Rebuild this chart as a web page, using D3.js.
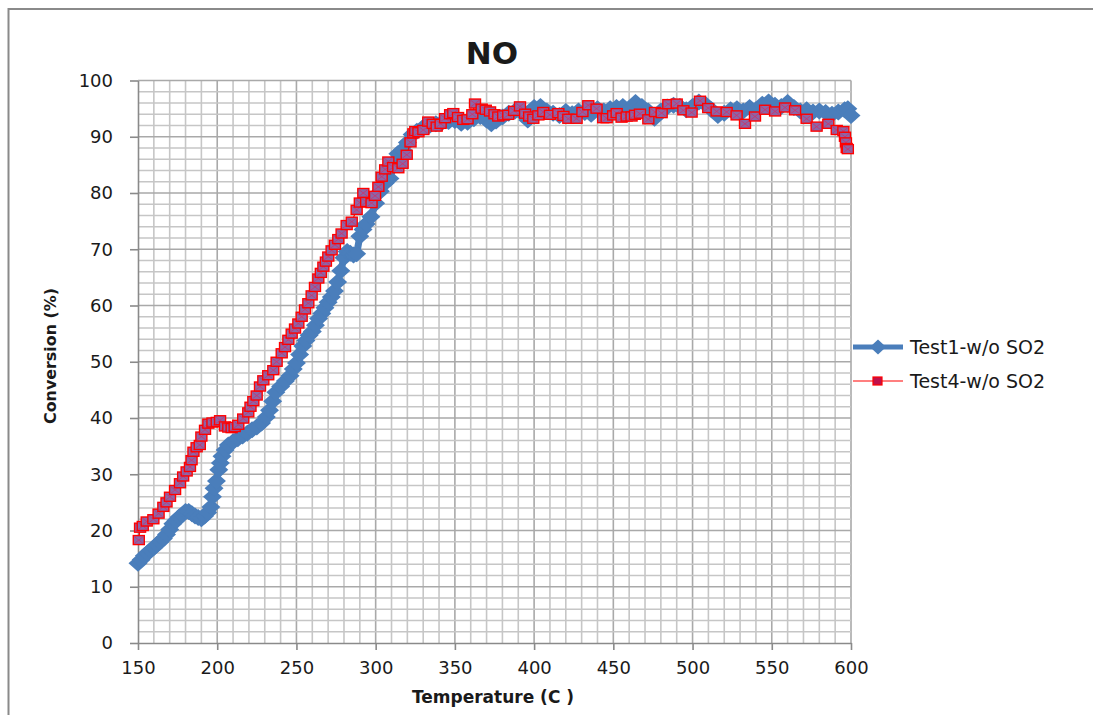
<!DOCTYPE html>
<html>
<head>
<meta charset="utf-8">
<script src="https://cdn.jsdelivr.net/npm/d3@7/dist/d3.min.js"></script>
<style>
  html, body { margin: 0; padding: 0; background: #fff; }
  svg { display: block; }
  text { font-family: "DejaVu Sans", "Liberation Sans", sans-serif; fill: #1a1a1a; }
</style>
</head>
<body>
<svg id="chart" width="1093" height="715"></svg>
<script>
// NO conversion vs temperature for two runs without SO2

const chartTitle = "NO";
const xTitle = "Temperature (C )";
const yTitle = "Conversion (%)";
const xTicks = [150, 200, 250, 300, 350, 400, 450, 500, 550, 600];
const yTicks = [0, 10, 20, 30, 40, 50, 60, 70, 80, 90, 100];

// Test1-w/o SO2
const test1Temp = [150, 152, 154, 156, 158, 160, 162, 164, 166, 168, 170, 172, 174, 176, 178, 180, 182, 184, 186, 188,
  190, 192, 194, 196, 197, 198, 199.5, 201, 202, 203, 205, 207, 210, 213, 216, 219, 222, 225, 228, 231,
  233, 235, 237, 240, 243, 246, 248, 250, 252, 254, 256, 258, 260, 262, 264, 266, 268, 270, 272, 274,
  276, 278, 280, 282, 284, 286, 288, 290, 292, 294, 297, 300, 303, 306, 309, 312, 314, 317, 320, 323,
  326, 330, 334, 338, 342, 346, 350, 354, 358, 362, 366, 370, 373, 376, 380, 384, 388, 392, 396, 400,
  404, 408, 412, 416, 420, 424, 428, 432, 436, 440, 444, 448, 452, 456, 460, 464, 468, 472, 476, 480,
  484, 488, 492, 496, 500, 504, 508, 512, 516, 520, 524, 528, 532, 536, 540, 544, 548, 552, 556, 560,
  564, 568, 572, 576, 580, 584, 588, 592, 596, 598, 600];
const test1Conv = [14.2, 14.8, 15.5, 16, 16.5, 17, 17.5, 18, 18.6, 19.3, 20.2, 21.2, 21.8, 22.4, 22.8, 23.4, 23.4, 23, 22.6, 22.3,
  22.1, 22.6, 23.2, 24.2, 26, 27.5, 28.8, 30.8, 32, 33.2, 34.3, 35.2, 35.8, 36.3, 36.8, 37.3, 37.9, 38.4, 39.1, 40.2,
  41.4, 43, 44.6, 45.6, 46.6, 47.5, 48.7, 49.8, 51.3, 52.8, 53.8, 54.7, 55.4, 56.5, 57.7, 58.6, 59.6, 60.6, 61.5, 62.6,
  64.2, 66.2, 68.5, 69.6, 69.3, 69, 69.2, 72.3, 73.5, 74.5, 75.8, 78.2, 80.3, 81.8, 82.6, 85.5, 87, 87.7, 89, 90.4,
  91, 91.7, 92, 92.3, 92.6, 92.7, 92.9, 92.4, 92.6, 93.2, 93.6, 93, 92.3, 92.8, 93.5, 94.2, 94.6, 94.3, 93, 95.2,
  95.4, 94.6, 94.2, 93.8, 94.5, 94.1, 94.6, 94.3, 94, 95, 94.6, 95, 95.2, 95.4, 94.8, 96.1, 95.4, 94.6, 93.3, 94.6,
  95.3, 95.6, 95.4, 94.8, 95.4, 96.2, 95.8, 94.8, 93.8, 94.2, 94.8, 95, 94.6, 95.2, 94.8, 95.8, 96.2, 95.6, 95.4, 96.1,
  95.2, 94.6, 94.8, 94.4, 94.6, 94.3, 94, 94.4, 94.8, 95, 93.8];

// Test4-w/o SO2
const test4Temp = [150.5, 151.3, 153, 155.5, 159.7, 163, 166, 168, 170.2, 173.4, 176.5, 178.5, 180.7, 182.8, 183.8, 185, 187, 189, 190, 192.3,
  194.4, 197, 199.7, 201.8, 204.9, 207, 209.1, 211, 213.3, 216.4, 219.6, 221, 222.8, 224.9, 227, 229.1, 232.2, 235.4, 237.5, 240.7,
  242.8, 244.9, 247, 249.1, 251.2, 253.3, 255.4, 257.5, 259.6, 261.7, 263.8, 265.4, 267, 268.6, 270.1, 272.2, 274.3, 276.4, 278.5, 281.7,
  284.9, 288, 290, 292.2, 294, 297.4, 299.6, 301.7, 303.8, 306, 308, 311, 314.3, 317, 319.6, 322, 323.8, 325, 327, 330.1,
  333.2, 336, 338.5, 341, 343.8, 347, 349, 352, 355.3, 358, 361, 362.7, 366.9, 369.5, 372.2, 375, 377.4, 380.5, 383.7, 387.4,
  391.1, 394.3, 396.9, 399.5, 402.7, 405.8, 410, 415.3, 418.5, 421.6, 426.8, 430.5, 434.2, 439.4, 443.6, 445.8, 449.9, 452.1, 455.2, 458.4,
  461.5, 463.7, 466.8, 472.1, 476.3, 480.5, 484.7, 490, 494.2, 499.4, 504.7, 509.9, 515.2, 521.5, 527.8, 533.1, 539.4, 545.8, 552.1, 558.4,
  564.7, 572, 578.3, 585.7, 591, 595.2, 596.2, 596.8, 597.3, 598];
const test4Conv = [18.3, 20.5, 20.8, 21.6, 22, 23, 24.2, 25, 26, 27.2, 28.4, 29.6, 30.5, 31.3, 32.5, 34, 34.8, 35.2, 36.7, 37.9,
  39, 39.2, 39.3, 39.6, 38.5, 38.3, 38.2, 38.4, 38.8, 39.9, 41, 42, 43, 44, 45.6, 46.7, 47.6, 48.5, 50, 51.5,
  52.6, 53.9, 55, 55.9, 56.8, 58, 59.3, 60.4, 61.8, 63.3, 64.8, 65.8, 66.9, 67.8, 68.7, 69.8, 70.8, 71.8, 72.8, 74.3,
  74.9, 77, 78.3, 80, 78.4, 78.2, 79.5, 81.1, 82.9, 84.2, 85.6, 84.6, 84.4, 85.2, 86.8, 89, 90.6, 91, 90.8, 91.2,
  92.7, 92.3, 91.8, 92.3, 93.3, 94, 94.2, 93.5, 93, 93.1, 94, 95.9, 95, 94.8, 94.5, 94, 93.6, 93.8, 93.9, 94.6,
  95.4, 94.1, 93.6, 93.2, 93.8, 94.4, 93.9, 94.2, 93.7, 93.2, 93.2, 94.4, 95.6, 95, 93.3, 93.3, 93.8, 94.2, 93.4, 93.6,
  93.6, 93.9, 94.1, 93.1, 94.4, 94.2, 95.8, 95.9, 94.7, 94.3, 96.4, 95.1, 94.5, 94.4, 93.8, 92.3, 93.6, 94.8, 94.5, 95.2,
  94.7, 93.2, 91.8, 92.3, 91.2, 91, 90, 89, 88, 87.8];

const seriesNames = ["Test1-w/o SO2", "Test4-w/o SO2"];

const test1 = test1Temp.map((t, i) => ({ t, v: test1Conv[i] }));
const test4 = test4Temp.map((t, i) => ({ t, v: test4Conv[i] }));

const svg = d3.select("#chart");

// outer chart frame
svg.append("rect")
  .attr("x", 8.5).attr("y", 9)
  .attr("width", 1200).attr("height", 800)
  .attr("fill", "none").attr("stroke", "#8a8a8a").attr("stroke-width", 2);

const x = d3.scaleLinear().domain([150, 600]).range([138, 851]);
const y = d3.scaleLinear().domain([0, 100]).range([643, 80.5]);

// gridlines
const grid = svg.append("g");
d3.range(160, 601, 10).forEach(t => {
  grid.append("line")
    .attr("x1", x(t)).attr("x2", x(t))
    .attr("y1", y(0)).attr("y2", y(100))
    .attr("stroke", t % 50 === 0 ? "#a9a9a9" : "#c6c6c6")
    .attr("stroke-width", 1.6);
});
d3.range(2, 101, 2).forEach(v => {
  grid.append("line")
    .attr("x1", x(150)).attr("x2", x(600))
    .attr("y1", y(v)).attr("y2", y(v))
    .attr("stroke", v % 10 === 0 ? "#a9a9a9" : "#c6c6c6")
    .attr("stroke-width", 1.6);
});

// axes
const yAxis = svg.append("g")
  .attr("transform", `translate(${x(150)},0)`)
  .call(d3.axisLeft(y).tickValues(yTicks).tickSize(8).tickPadding(17).tickSizeOuter(0));
const xAxis = svg.append("g")
  .attr("transform", `translate(0,${y(0)})`)
  .call(d3.axisBottom(x).tickValues(xTicks).tickSize(7).tickPadding(11).tickSizeOuter(0));
[yAxis, xAxis].forEach(g => {
  g.select(".domain").attr("stroke", "#8a8a8a").attr("stroke-width", 1.6);
  g.selectAll(".tick line").attr("stroke", "#8a8a8a").attr("stroke-width", 1.6);
  g.selectAll(".tick text")
    .attr("font-size", 18)
    .attr("font-family", "DejaVu Sans, sans-serif")
    .attr("fill", "#1a1a1a");
});

// Test1 series: thick blue line with diamond markers
const line = d3.line().x(d => x(d.t)).y(d => y(d.v));
const blue = "#4a7ebb";
svg.append("path").datum(test1)
  .attr("d", line).attr("fill", "none")
  .attr("stroke", blue).attr("stroke-width", 7).attr("stroke-linejoin", "round");
const diamond = (cx, cy, w, h) => `M${cx},${cy - h}L${cx + w},${cy}L${cx},${cy + h}L${cx - w},${cy}Z`;
svg.append("g").selectAll("path").data(test1).join("path")
  .attr("d", d => diamond(x(d.t), y(d.v), 9.5, 8.5))
  .attr("fill", blue);

// Test4 series: thin red line with square markers
const red = "#ff0000";
svg.append("path").datum(test4)
  .attr("d", line).attr("fill", "none")
  .attr("stroke", red).attr("stroke-width", 1.2);
const sq = svg.append("g").selectAll("g").data(test4).join("g")
  .attr("transform", d => `translate(${x(d.t)},${y(d.v)})`);
sq.append("rect")
  .attr("x", -5.5).attr("y", -4.5).attr("width", 11).attr("height", 9)
  .attr("fill", "#8a66a8").attr("stroke", red).attr("stroke-width", 1.4);
sq.append("path")
  .attr("d", "M-4.5,-3.5L4.5,3.5M-4.5,3.5L4.5,-3.5")
  .attr("stroke", "#d0306a").attr("stroke-width", 0.8);

// title
svg.append("text")
  .attr("x", 492).attr("y", 64)
  .attr("text-anchor", "middle")
  .attr("font-size", 31).attr("font-weight", "bold")
  .text(chartTitle);

// axis titles
svg.append("text")
  .attr("x", 493).attr("y", 703)
  .attr("text-anchor", "middle")
  .attr("font-size", 17).attr("font-weight", "bold")
  .text(xTitle);
svg.append("text")
  .attr("transform", "translate(56,356) rotate(-90)")
  .attr("text-anchor", "middle")
  .attr("font-size", 15).attr("font-weight", "bold")
  .attr("textLength", 136).attr("lengthAdjust", "spacingAndGlyphs")
  .text(yTitle);

// legend
const legend = svg.append("g");
const ly1 = 347, ly2 = 381;
legend.append("line").attr("x1", 853).attr("x2", 903).attr("y1", ly1).attr("y2", ly1)
  .attr("stroke", blue).attr("stroke-width", 5);
legend.append("path").attr("d", diamond(878, ly1, 8, 7.5)).attr("fill", blue);
legend.append("text").attr("x", 910).attr("y", ly1).attr("dy", "0.35em")
  .attr("font-size", 19).text(seriesNames[0]);
legend.append("line").attr("x1", 853).attr("x2", 903).attr("y1", ly2).attr("y2", ly2)
  .attr("stroke", red).attr("stroke-width", 1.2);
legend.append("rect").attr("x", 873).attr("y", ly2 - 4).attr("width", 9).attr("height", 8)
  .attr("fill", "#c0104a").attr("stroke", red).attr("stroke-width", 1.2);
legend.append("text").attr("x", 910).attr("y", ly2).attr("dy", "0.35em")
  .attr("font-size", 19).text(seriesNames[1]);
</script>
</body>
</html>
